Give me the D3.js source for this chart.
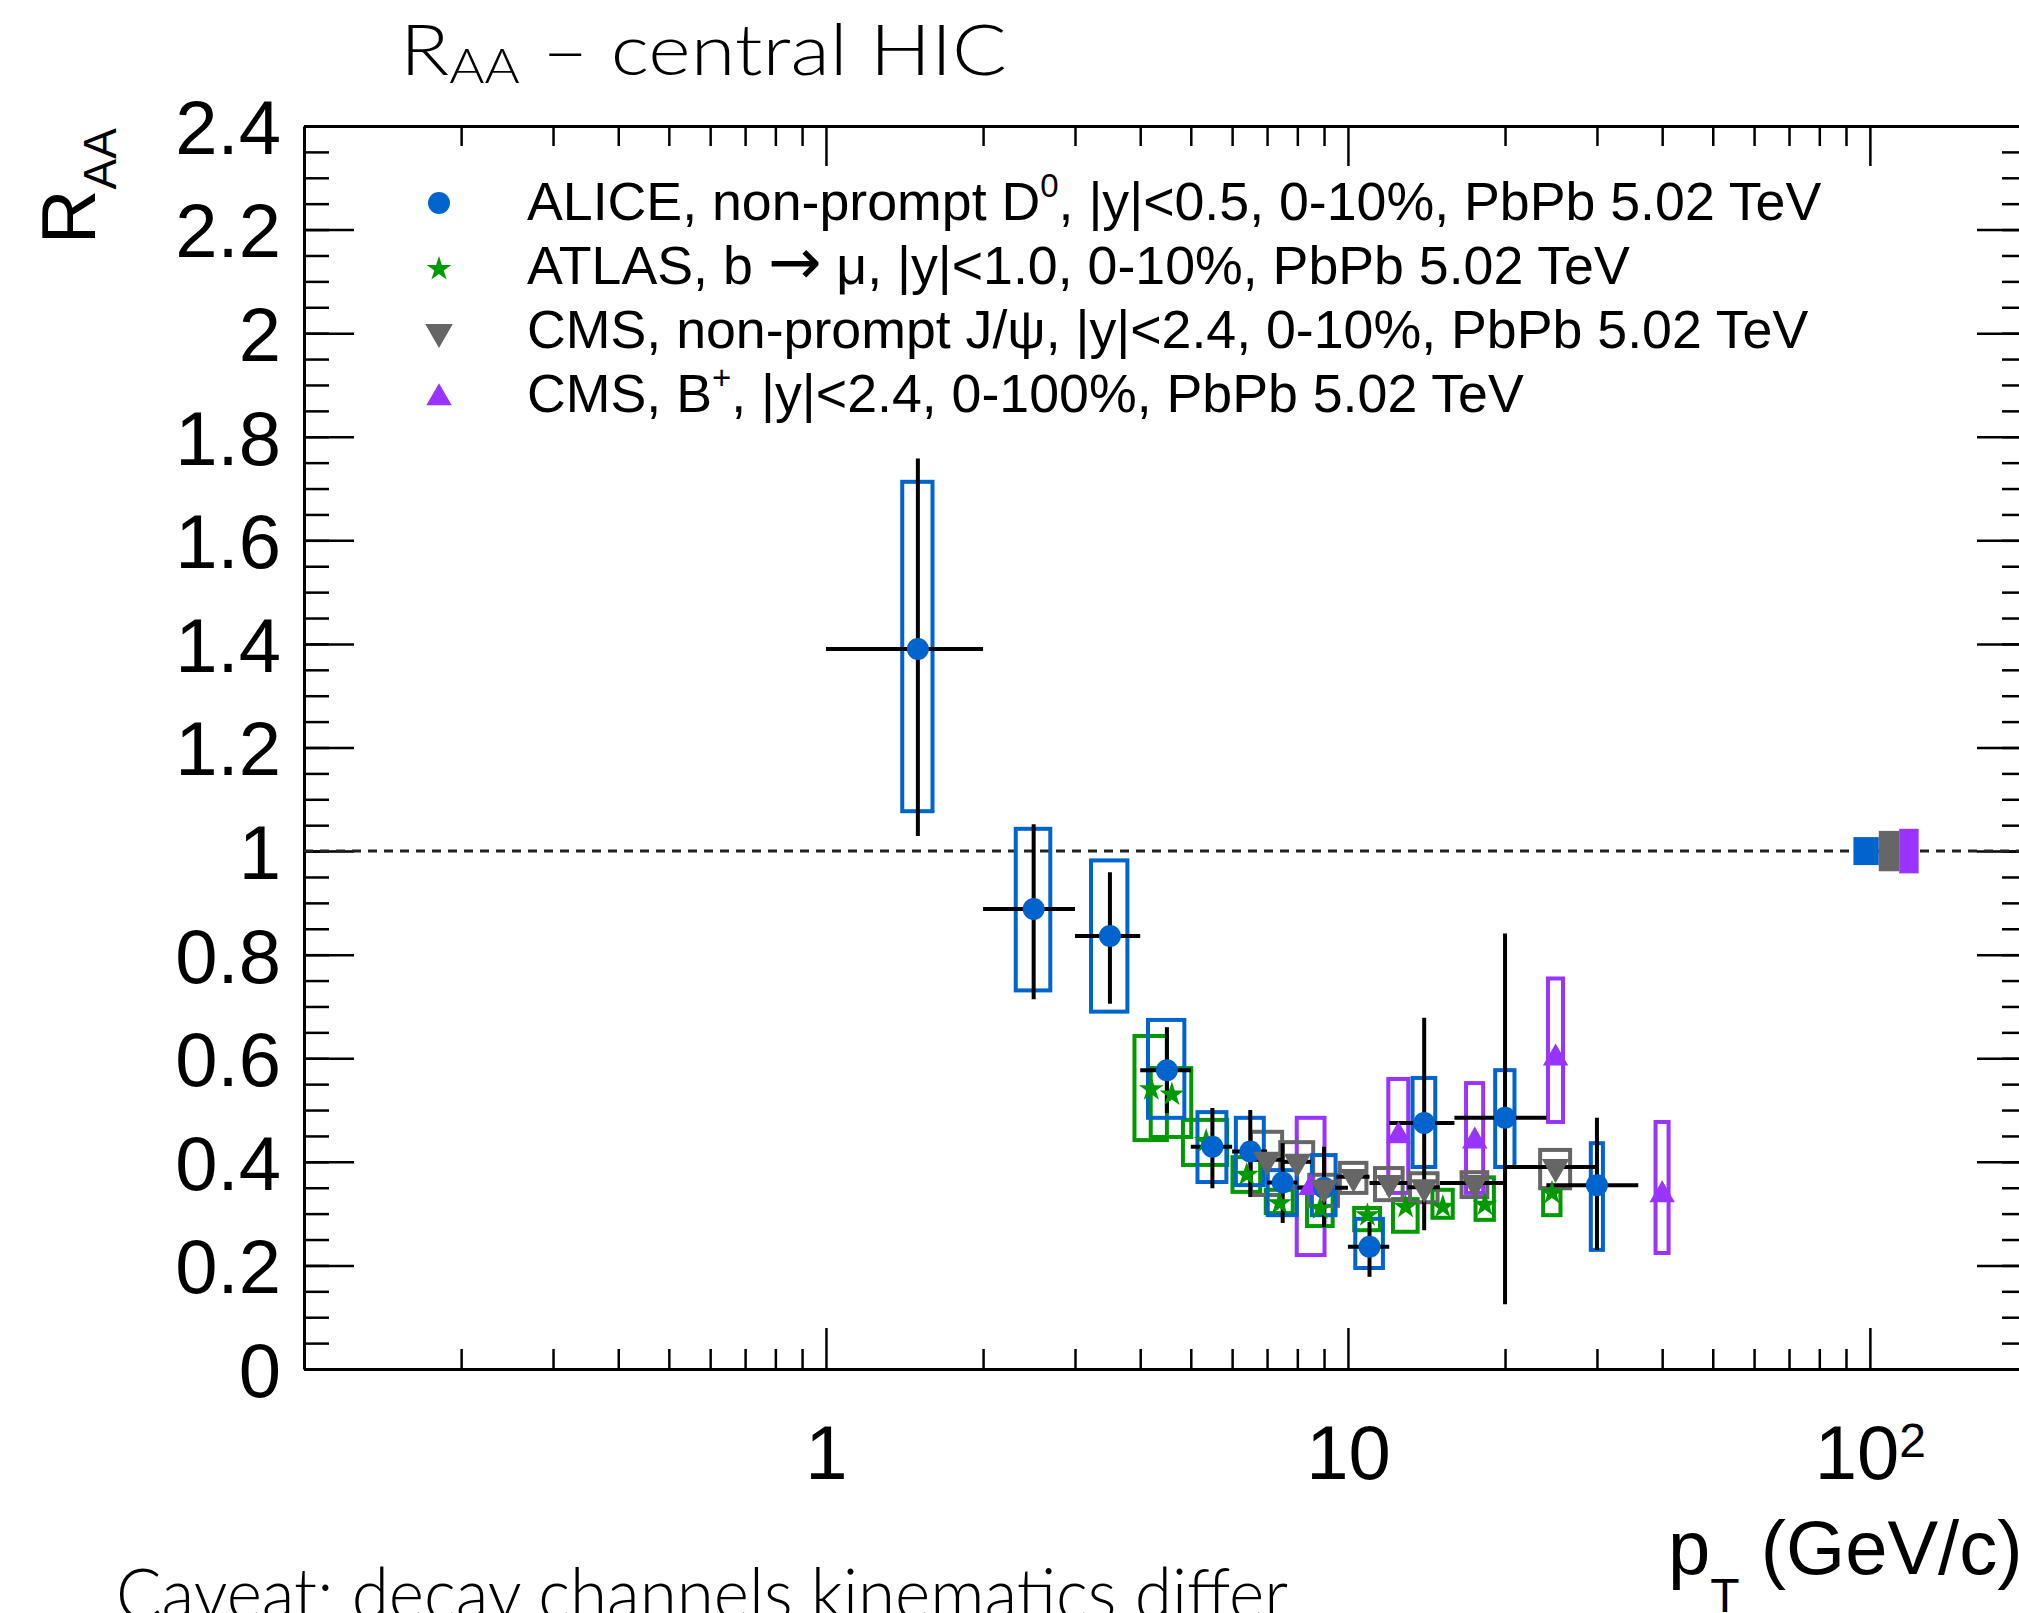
<!DOCTYPE html>
<html>
<head>
<meta charset="utf-8">
<script src="https://cdn.jsdelivr.net/npm/d3@7"></script>
<style>
  html, body { margin: 0; padding: 0; background: #ffffff; }
  svg { display: block; }
</style>
</head>
<body>
<svg id="chart" width="2019" height="1613"></svg>
<script>
// ---------------- data ----------------
// ALICE, non-prompt D0, |y|<0.5, 0-10%
const alicePt        = [1.5, 2.5, 3.5, 4.5, 5.5, 6.5, 7.5, 9, 11, 14, 20, 30];
const alicePtLow     = [1, 2, 3, 4, 5, 6, 7, 8, 10, 12, 16, 24];
const alicePtHigh    = [2, 3, 4, 5, 6, 7, 8, 10, 12, 16, 24, 36];
const aliceRaa       = [1.39, 0.888, 0.836, 0.577, 0.429, 0.42, 0.36, 0.35, 0.236, 0.475, 0.485, 0.355];
const aliceStatLow   = [1.029, 0.714, 0.705, 0.494, 0.349, 0.332, 0.282, 0.274, 0.178, 0.268, 0.125, 0.230];
const aliceStatHigh  = [1.758, 1.052, 0.959, 0.660, 0.504, 0.500, 0.436, 0.429, 0.284, 0.678, 0.841, 0.485];
const aliceSystLow   = [1.077, 0.731, 0.690, 0.485, 0.361, 0.355, 0.297, 0.297, 0.195, 0.390, 0.390, 0.230];
const aliceSystHigh  = [1.713, 1.043, 0.982, 0.674, 0.496, 0.485, 0.384, 0.413, 0.290, 0.562, 0.577, 0.436];
const aliceSystHalfW = [0.10, 0.19, 0.28, 0.36, 0.35, 0.40, 0.48, 0.47, 0.67, 0.70, 0.85, 0.80]; // GeV/c

// ATLAS, b -> mu, |y|<1.0, 0-10%
const atlasPt        = [4.2, 4.6, 5.35, 6.4, 7.4, 8.85, 10.9, 12.9, 15.2, 18.3, 24.6];
const atlasRaa       = [0.54, 0.53, 0.44, 0.375, 0.32, 0.31, 0.297, 0.313, 0.313, 0.317, 0.34];
const atlasSystLow   = [0.442, 0.448, 0.394, 0.342, 0.301, 0.276, 0.268, 0.265, 0.292, 0.288, 0.297];
const atlasSystHigh  = [0.643, 0.581, 0.481, 0.409, 0.346, 0.344, 0.311, 0.328, 0.346, 0.370, 0.349];
const atlasSystHalfW = [0.30, 0.41, 0.52, 0.39, 0.44, 0.50, 0.62, 0.70, 0.68, 0.74, 0.94];

// CMS, non-prompt J/psi, |y|<2.4, 0-10%
const jpsiPt         = [7, 8, 9, 10.25, 12, 14, 17.5, 25];
const jpsiPtLow      = [6.5, 7.5, 8.5, 9.5, 11, 13, 15, 20];
const jpsiPtHigh     = [7.5, 8.5, 9.5, 11, 13, 15, 20, 30];
const jpsiRaa        = [0.404, 0.40, 0.35, 0.371, 0.359, 0.351, 0.359, 0.39];
const jpsiSystLow    = [0.336, 0.351, 0.315, 0.340, 0.326, 0.322, 0.332, 0.349];
const jpsiSystHigh   = [0.458, 0.438, 0.375, 0.398, 0.388, 0.378, 0.380, 0.423];
const jpsiSystHalfW  = [0.48, 0.58, 0.57, 0.60, 0.73, 0.85, 0.99, 1.65];

// CMS, B+, |y|<2.4, 0-100%
const bplusPt        = [8.5, 12.5, 17.5, 25, 40];
const bplusRaa       = [0.35, 0.45, 0.44, 0.60, 0.336];
const bplusSystLow   = [0.22, 0.34, 0.34, 0.477, 0.224];
const bplusSystHigh  = [0.485, 0.56, 0.552, 0.754, 0.477];
const bplusSystHalfW = [0.52, 0.55, 0.66, 0.83, 1.15];

// global normalisation uncertainties, drawn at RAA = 1
const normPtLow  = [93, 104, 113.8];
const normPtHigh = [104, 113.8, 124];
const normUnc    = [0.027, 0.039, 0.043];

// axis ticks
const yTicks      = [0, 0.2, 0.4, 0.6, 0.8, 1, 1.2, 1.4, 1.6, 1.8, 2, 2.2, 2.4];
const yMinorTicks = d3.range(0, 49).map(i => i * 0.05);
const xTicks      = [1, 10, 100];
const xMinorTicks = [0.2,0.3,0.4,0.5,0.6,0.7,0.8,0.9, 2,3,4,5,6,7,8,9, 20,30,40,50,60,70,80,90];

// legend entries: [text, kind]
const legendLabels = [
  [["ALICE, non-prompt D"], ["0", "sup"], [", |y|<0.5, 0-10%, PbPb 5.02 TeV"]],
  [["ATLAS, b "], ["\u2192", "arrow"], [" \u03bc, |y|<1.0, 0-10%, PbPb 5.02 TeV"]],
  [["CMS, non-prompt J/\u03c8, |y|<2.4, 0-10%, PbPb 5.02 TeV"]],
  [["CMS, B"], ["+", "sup"], [", |y|<2.4, 0-100%, PbPb 5.02 TeV"]]
];

// ---------------- styles ----------------
const COL_ALICE = "#0064cf";
const COL_ATLAS = "#009a00";
const COL_JPSI  = "#666666";
const COL_BPLUS = "#9933ff";
const ROOTFONT  = "'Liberation Sans', Arial, Helvetica, sans-serif";
const SLIDEFONT = "Lato, 'Open Sans', sans-serif";

const svg = d3.select("#chart");

const x = d3.scaleLog().domain([0.1, 200]).range([304, 2027]);
const y = d3.scaleLinear().domain([0, 2.4]).range([1369, 126]);

// stretch a text horizontally so that it spans a given width from its left edge
function fitWidth(sel, x0, width) {
  const bb = sel.node().getBBox();
  const s = width / bb.width;
  const left = bb.x;
  sel.attr("transform", `translate(${x0},0) scale(${s},1) translate(${-left},0)`);
}

// ---------------- axes ----------------
function styleAxis(g, width) {
  g.select(".domain").attr("stroke", "#000").attr("stroke-width", 3);
  g.selectAll(".tick line").attr("stroke", "#000").attr("stroke-width", width);
  g.selectAll(".tick text")
    .attr("fill", "#000")
    .style("font-family", ROOTFONT)
    .style("font-size", "76px");
}

// left
svg.append("g").attr("transform", `translate(${x(0.1)},0)`)
  .call(d3.axisLeft(y).tickValues(yMinorTicks).tickSizeInner(-25).tickSizeOuter(0).tickFormat(""))
  .call(g => { g.select(".domain").remove(); styleAxis(g, 2.5); });
svg.append("g").attr("transform", `translate(${x(0.1)},0)`)
  .call(d3.axisLeft(y).tickValues(yTicks).tickSizeInner(-50).tickSizeOuter(0).tickPadding(23)
        .tickFormat(d => String(+d.toFixed(1))))
  .call(g => { styleAxis(g, 2.5); g.selectAll(".tick text").attr("dy", "0.36em"); });

// right
svg.append("g").attr("transform", `translate(${x(200)},0)`)
  .call(d3.axisRight(y).tickValues(yMinorTicks).tickSizeInner(-25).tickSizeOuter(0).tickFormat(""))
  .call(g => { g.select(".domain").remove(); styleAxis(g, 2.5); });
svg.append("g").attr("transform", `translate(${x(200)},0)`)
  .call(d3.axisRight(y).tickValues(yTicks).tickSizeInner(-50).tickSizeOuter(0).tickFormat(""))
  .call(g => styleAxis(g, 2.5));

// bottom
svg.append("g").attr("transform", `translate(0,${y(0)})`)
  .call(d3.axisBottom(x).tickValues(xMinorTicks).tickSizeInner(-20).tickSizeOuter(0).tickFormat(""))
  .call(g => { g.select(".domain").remove(); styleAxis(g, 2.5); });
svg.append("g").attr("transform", `translate(0,${y(0)})`)
  .call(d3.axisBottom(x).tickValues(xTicks).tickSizeInner(-41).tickSizeOuter(0).tickPadding(56)
        .tickFormat(d => d === 100 ? "10" : String(d)))
  .call(g => {
    styleAxis(g, 2.5);
    g.selectAll(".tick text").filter(d => d === 100)
      .append("tspan").attr("dy", "-0.46em").style("font-size", "48px").text("2");
  });

// top
svg.append("g").attr("transform", `translate(0,${y(2.4)})`)
  .call(d3.axisTop(x).tickValues(xMinorTicks).tickSizeInner(-20).tickSizeOuter(0).tickFormat(""))
  .call(g => { g.select(".domain").remove(); styleAxis(g, 2.5); });
svg.append("g").attr("transform", `translate(0,${y(2.4)})`)
  .call(d3.axisTop(x).tickValues(xTicks).tickSizeInner(-40).tickSizeOuter(0).tickFormat(""))
  .call(g => styleAxis(g, 2.5));

// ---------------- reference line at RAA = 1 ----------------
svg.append("line")
  .attr("x1", x(0.1)).attr("x2", x(200))
  .attr("y1", y(1)).attr("y2", y(1))
  .attr("stroke", "#222").attr("stroke-width", 3)
  .attr("stroke-dasharray", "9,7");

// ---------------- systematic boxes ----------------
const plot = svg.append("g");

function systBoxes(pt, lo, hi, halfW, color) {
  plot.append("g").selectAll("rect").data(pt).join("rect")
    .attr("x", (d, i) => x(d - halfW[i]))
    .attr("width", (d, i) => x(d + halfW[i]) - x(d - halfW[i]))
    .attr("y", (d, i) => y(hi[i]))
    .attr("height", (d, i) => y(lo[i]) - y(hi[i]))
    .attr("fill", "none").attr("stroke", color).attr("stroke-width", 4);
}
systBoxes(bplusPt, bplusSystLow, bplusSystHigh, bplusSystHalfW, COL_BPLUS);
systBoxes(atlasPt, atlasSystLow, atlasSystHigh, atlasSystHalfW, COL_ATLAS);
systBoxes(jpsiPt,  jpsiSystLow,  jpsiSystHigh,  jpsiSystHalfW,  COL_JPSI);
systBoxes(alicePt, aliceSystLow, aliceSystHigh, aliceSystHalfW, COL_ALICE);

// ---------------- statistical error bars ----------------
const bars = plot.append("g").attr("stroke", "#000").attr("stroke-width", 4);
bars.selectAll("line.jh").data(jpsiPt).join("line").attr("class", "jh")
  .attr("x1", (d, i) => x(jpsiPtLow[i])).attr("x2", (d, i) => x(jpsiPtHigh[i]))
  .attr("y1", (d, i) => y(jpsiRaa[i])).attr("y2", (d, i) => y(jpsiRaa[i]));
bars.selectAll("line.av").data(alicePt).join("line").attr("class", "av")
  .attr("x1", d => x(d)).attr("x2", d => x(d))
  .attr("y1", (d, i) => y(aliceStatLow[i])).attr("y2", (d, i) => y(aliceStatHigh[i]));
bars.selectAll("line.ah").data(alicePt).join("line").attr("class", "ah")
  .attr("x1", (d, i) => x(alicePtLow[i])).attr("x2", (d, i) => x(alicePtHigh[i]))
  .attr("y1", (d, i) => y(aliceRaa[i])).attr("y2", (d, i) => y(aliceRaa[i]));

// ---------------- markers ----------------
const starSym   = d3.symbol().type(d3.symbolStar).size(190);
const triSym    = d3.symbol().type(d3.symbolTriangle).size(330);
const triSymSm  = d3.symbol().type(d3.symbolTriangle).size(280);

plot.append("g").selectAll("path").data(atlasPt).join("path")
  .attr("d", starSym)
  .attr("transform", (d, i) => `translate(${x(d)},${y(atlasRaa[i])})`)
  .attr("fill", COL_ATLAS);
plot.append("g").selectAll("path").data(bplusPt).join("path")
  .attr("d", triSymSm)
  .attr("transform", (d, i) => `translate(${x(d)},${y(bplusRaa[i])})`)
  .attr("fill", COL_BPLUS);
plot.append("g").selectAll("circle").data(alicePt).join("circle")
  .attr("cx", d => x(d)).attr("cy", (d, i) => y(aliceRaa[i])).attr("r", 11)
  .attr("fill", COL_ALICE);
plot.append("g").selectAll("path").data(jpsiPt).join("path")
  .attr("d", triSym)
  .attr("transform", (d, i) => `translate(${x(d)},${y(jpsiRaa[i])}) rotate(180)`)
  .attr("fill", COL_JPSI);

// normalisation boxes
const normColors = [COL_ALICE, COL_JPSI, COL_BPLUS];
plot.append("g").selectAll("rect").data(normUnc).join("rect")
  .attr("x", (d, i) => x(normPtLow[i]))
  .attr("width", (d, i) => x(normPtHigh[i]) - x(normPtLow[i]))
  .attr("y", d => y(1 + d))
  .attr("height", d => y(1 - d) - y(1 + d))
  .attr("fill", (d, i) => normColors[i]);

// ---------------- legend ----------------
const legend = svg.append("g");
const legRowY = [220, 284, 348, 412];
legendLabels.forEach((parts, i) => {
  const t = legend.append("text")
    .attr("x", 527).attr("y", legRowY[i])
    .style("font-family", ROOTFONT).style("font-size", "53.7px").attr("fill", "#000");
  let raised = false;
  parts.forEach(p => {
    const ts = t.append("tspan").text(p[0]);
    if (p[1] === "sup") {
      ts.attr("dy", -23).style("font-size", "33px");
      raised = true;
    } else {
      if (raised) { ts.attr("dy", 23); raised = false; }
      if (p[1] === "arrow") ts.style("font-family", "'DejaVu Sans', sans-serif").style("font-size", "64px");
    }
  });
});
const legX = 439;
legend.append("circle").attr("cx", legX).attr("cy", legRowY[0] - 17).attr("r", 11).attr("fill", COL_ALICE);
legend.append("path").attr("d", starSym).attr("transform", `translate(${legX},${legRowY[1] - 15})`).attr("fill", COL_ATLAS);
legend.append("path").attr("d", triSym).attr("transform", `translate(${legX},${legRowY[2] - 16}) rotate(180)`).attr("fill", COL_JPSI);
legend.append("path").attr("d", triSymSm).attr("transform", `translate(${legX},${legRowY[3] - 14})`).attr("fill", COL_BPLUS);

// ---------------- titles ----------------
const title = svg.append("text").attr("x", 400).attr("y", 75)
  .style("font-family", SLIDEFONT).style("font-weight", 300).style("font-size", "71px").attr("fill", "#000");
title.append("tspan").text("R");
title.append("tspan").attr("dy", 8).style("font-size", "47px").text("AA");
title.append("tspan").attr("dy", -8).text(" \u2013 central HIC");
fitWidth(title, 400, 607);

const yTitle = svg.append("text")
  .attr("transform", "translate(95,128) rotate(-90)")
  .attr("text-anchor", "end")
  .style("font-family", ROOTFONT).style("font-size", "76px").attr("fill", "#000");
yTitle.append("tspan").text("R");
yTitle.append("tspan").attr("dy", 21).style("font-size", "46px").text("AA");

const xTitle = svg.append("text").attr("x", 1668).attr("y", 1574)
  .style("font-family", ROOTFONT).style("font-size", "76px").attr("fill", "#000");
xTitle.append("tspan").text("p");
xTitle.append("tspan").attr("dy", 38).style("font-size", "48px").text("T");
xTitle.append("tspan").attr("dy", -38).text(" (GeV/c)");

const caveat = svg.append("text").attr("x", 116).attr("y", 1619)
  .style("font-family", SLIDEFONT).style("font-weight", 300).style("font-size", "70px").attr("fill", "#000")
  .text("Caveat: decay channels kinematics differ");
fitWidth(caveat, 116, 1172);
</script>
</body>
</html>
